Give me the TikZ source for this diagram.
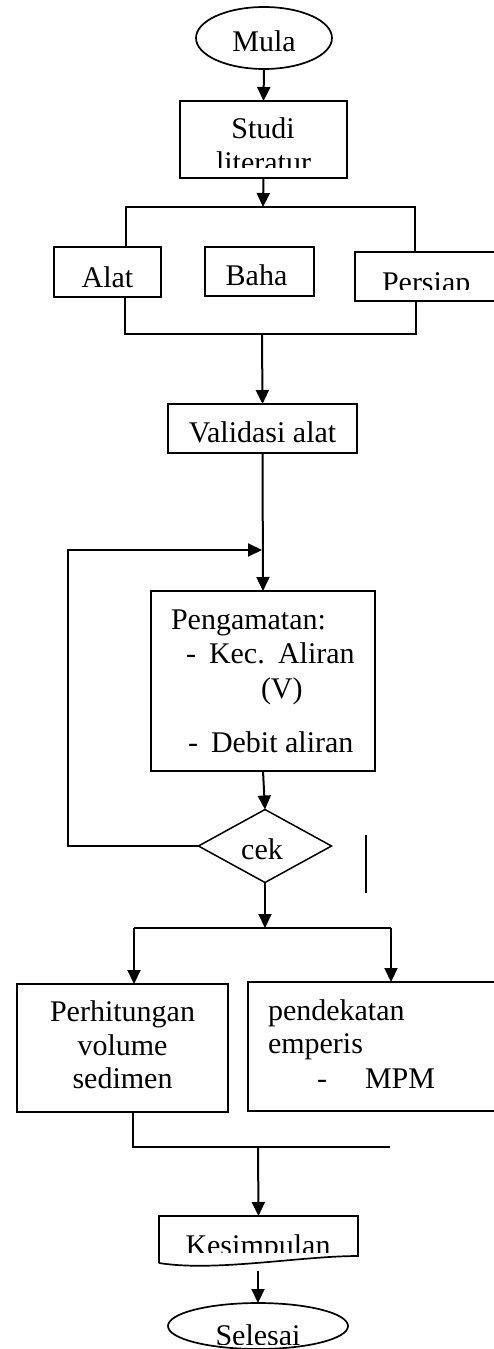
\documentclass[tikz,border=0pt]{standalone}
\usepackage{fontspec}
\setmainfont{Liberation Serif}
\usetikzlibrary{arrows.meta,shapes.geometric,calc}
\tikzset{
  box/.style={draw, rectangle, line width=1.8pt, inner sep=0pt, outer sep=0pt},
  oval/.style={draw, ellipse, line width=1.7pt, inner sep=0pt, outer sep=0pt},
  decide/.style={draw, diamond, line width=1.5pt, inner sep=0pt, outer sep=0pt},
  txt/.style={inner sep=0pt, outer sep=0pt, font=\fontsize{30}{36}\selectfont},
  ln/.style={line width=1.8pt},
  arr/.style={line width=2pt, -{Triangle[length=14pt,width=13pt]}}
}
\begin{document}
\begin{tikzpicture}[x=1pt,y=-1pt]
\useasboundingbox (0,0) rectangle (494,1349);
\clip (0,0) rectangle (494,1349);

% start
\node[oval, minimum width=136pt, minimum height=62pt] (mula) at (264,38) {};
\node[txt, anchor=base] (tmula) at (264,51) {Mula};

% studi literatur
\node[box, minimum width=167pt, minimum height=77pt] (studi) at (263.5,139.5) {};
\node[txt, anchor=base] (tstudi) at (263,138) {Studi};
\begin{scope}
  \clip (185,148) rectangle (342,167);
  \node[txt, anchor=base] (tlit) at (263.5,172) {literatur};
\end{scope}
\draw[arr] (mula.south) -- (studi.north);

% three boxes
\node[box, minimum width=107pt, minimum height=50pt] (alat) at (107.5,272) {};
\node[txt, anchor=base] (talat) at (107.5,287) {Alat};
\node[box, minimum width=109pt, minimum height=49pt] (baha) at (259.5,271.5) {};
\node[txt, anchor=base] (tbaha) at (256.5,285) {Baha};
\node[box, minimum width=205pt, minimum height=49pt] (persiap) at (457.5,276.5) {};
\begin{scope}
  \clip (360,255) rectangle (490,289);
  \node[txt, anchor=base west] (tpersiap) at (382,292) {Persiap};
\end{scope}

\coordinate (tl) at (126,207);
\coordinate (tr) at (415,207);
\coordinate (tm) at (263,207);
\coordinate (bl) at (125,334);
\coordinate (br) at (416,334);
\coordinate (bm) at (262,334);
\draw[arr] (studi.south) -- (tm);
\draw[ln] (tl |- alat.north) -- (tl) -- (tr) -- (tr |- persiap.north);
\draw[ln] (bl |- alat.south) -- (bl) -- (br) -- (br |- persiap.south);

% validasi
\node[box, minimum width=189pt, minimum height=49pt] (valid) at (262.5,428.5) {};
\node[txt, anchor=base] (tvalid) at (262.5,442) {Validasi alat};
\draw[arr] (bm) -- (valid.north);

% pengamatan
\node[box, minimum width=224pt, minimum height=180pt] (peng) at (263,681) {};
\node[txt, anchor=base west] (tp1) at (171,629) {Pengamatan:};
\node[txt, anchor=base west] (tp2a) at (186,663) {-};
\node[txt, anchor=base west] (tp2b) at (209,663) {Kec.};
\node[txt, anchor=base west] (tp2c) at (278,663) {Aliran};
\node[txt, anchor=base west] (tp3) at (261,698) {(V)};
\node[txt, anchor=base west] (tp4a) at (188,752) {-};
\node[txt, anchor=base west] (tp4b) at (211,752) {Debit aliran};
\draw[arr] (valid.south) -- (peng.north);

% cek
\node[decide, minimum width=133pt, minimum height=73pt] (cek) at (265,846) {};
\node[txt, anchor=base] (tcek) at (262,859) {cek};
\draw[arr] (peng.south) -- (cek.north);

\coordinate (lp) at (262,550);
\coordinate (lc) at (68,846);
\draw[arr] (cek.west) -- (lc) -- (lc |- lp) -- (lp);

\coordinate (s1) at (366,835);
\coordinate (s2) at (366,893);
\draw[line width=1.5pt] (s1) -- (s2);

% split
\coordinate (sp) at (265,928);
\coordinate (spl) at (134,928);
\coordinate (spr) at (391,928);
\draw[arr] (cek.south) -- (sp);
\draw[ln] (spl) -- (spr);

\node[box, minimum width=211pt, minimum height=128pt] (perh) at (122.5,1048) {};
\node[txt, anchor=base] (th1) at (122.5,1021) {Perhitungan};
\node[txt, anchor=base] (th2) at (122.5,1055) {volume};
\node[txt, anchor=base] (th3) at (122.5,1088) {sedimen};

\node[box, minimum width=292pt, minimum height=129pt] (pend) at (394,1046.5) {};
\node[txt, anchor=base west] (te1) at (268,1020) {pendekatan};
\node[txt, anchor=base west] (te2) at (268,1053) {emperis};
\node[txt, anchor=base west] (te3) at (317,1088) {-};
\node[txt, anchor=base west] (te4) at (365,1088) {MPM};

\draw[arr] (spl) -- (spl |- perh.north);
\draw[arr] (spr) -- (spr |- pend.north);

% merge
\coordinate (ml) at (133,1147);
\coordinate (mr) at (390,1147);
\coordinate (mm) at (258,1147);
\draw[ln] (ml |- perh.south) -- (ml) -- (mr);

% kesimpulan (document shape)
\node[minimum width=198pt, minimum height=48pt, inner sep=0pt, outer sep=0pt] (kes) at (258.5,1240) {};
\draw[line width=1.7pt, line join=miter]
  (159,1263) -- (159,1216) -- (358,1216) -- (358,1256)
  .. controls (300,1256) and (215,1272) .. (159,1263);
\begin{scope}
  \clip (165,1220) rectangle (352,1252);
  \node[txt, anchor=base] (tkes) at (258,1255) {Kesimpulan};
\end{scope}
\draw[arr] (mm) -- (kes.north);

% selesai
\coordinate (kout) at (258,1271);
\node[oval, minimum width=180pt, minimum height=46pt] (selesai) at (258,1326) {};
\draw[arr] (kout) -- (selesai.north);
\begin{scope}
  \clip (200,1310) rectangle (320,1344);
  \node[txt, anchor=base] (tsel) at (258,1345) {Selesai};
\end{scope}
\end{tikzpicture}
\end{document}
